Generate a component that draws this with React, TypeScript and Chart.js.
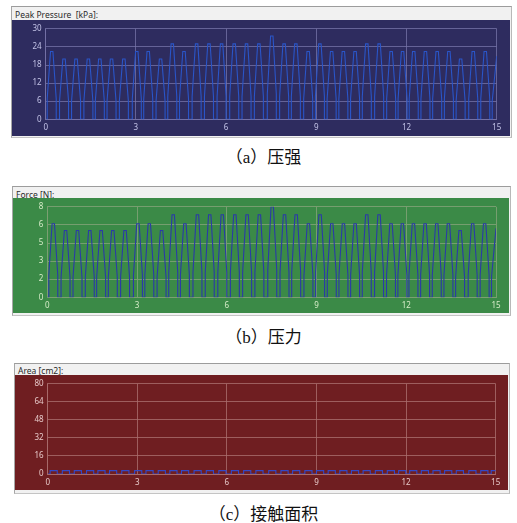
import React, { useEffect, useRef } from 'react';
import { Chart, registerables } from 'chart.js';

Chart.register(...registerables);

// ---- data ----
const xTicks = [0, 3, 6, 9, 12, 15];
const pressureTicks = [0, 6, 12, 18, 24, 30];
const forceTicks = [0, 1.6, 3.2, 4.8, 6.4, 8];
const areaTicks = [0, 16, 32, 48, 64, 80];

// time (s) of each step peak
const peakTimes = [
  0.2, 0.61, 1.01, 1.42, 1.8, 2.19, 2.6, 3.03, 3.41, 3.82, 4.21, 4.6, 5.02,
  5.43, 5.85, 6.27, 6.68, 7.09, 7.52, 7.93, 8.32, 8.73, 9.12, 9.51, 9.9,
  10.29, 10.68, 11.09, 11.49, 11.87, 12.24, 12.63, 13.02, 13.41, 13.8, 14.22,
  14.62,
];
// peak pressure (kPa) of each step
const pressurePeaks = [
  22.5, 20, 20, 20, 20, 20, 20, 22.5, 22.5, 20, 25, 22.5, 25, 25, 25, 25, 25,
  25, 27.6, 25, 25, 22.5, 25, 22.5, 22.5, 22.5, 25, 25, 22.5, 22.5, 22.5, 22.5,
  22.5, 22.5, 20, 22.5, 22.5,
];
// force (N) of each step
const forcePeaks = [
  6.5, 5.9, 5.9, 5.9, 5.9, 5.9, 5.9, 6.5, 6.5, 5.9, 7.3, 6.5, 7.3, 7.3, 7.3,
  7.3, 7.3, 7.3, 8.0, 7.3, 7.3, 6.5, 7.3, 6.5, 6.5, 6.5, 7.3, 7.3, 6.5, 6.5,
  6.5, 6.5, 6.5, 6.5, 5.9, 6.5, 6.5,
];
// contact area (cm2) of each step
const areaPeaks = [
  3, 3, 3, 3, 3, 3, 3, 3, 3, 3, 3, 3, 3, 3, 3, 3, 3, 3, 3, 3, 3, 3, 3, 3, 3, 3,
  3, 3, 3, 3, 3, 3, 3, 3, 3, 3, 3,
];
// last, unfinished step at the right edge
const tailTimes = [14.85, 14.85, 15.0];
const pressureTail = [0, 6, 21];
const forceTail = [0, 1.8, 6.1];
const areaTail = [0, 3, 3];

// outline of one step (time offset from peak, fraction of peak)
const stepOffsets = [-0.15, -0.15, -0.1, -0.04, 0.04, 0.1, 0.15, 0.15];
const stepShape = [0, 0.3, 0.62, 1, 1, 0.62, 0.3, 0];
const areaOffsets = [-0.12, -0.12, -0.05, 0.05, 0.12, 0.12];
const areaShape = [0, 1, 1, 1, 1, 0];

function buildPoints(peaks: number[], tail: number[], offsets: number[], shape: number[]) {
  const pts: { x: number; y: number }[] = [{ x: 0, y: 0 }];
  peakTimes.forEach((t, i) => {
    offsets.forEach((o, j) => {
      pts.push({ x: Math.round((t + o) * 1000) / 1000, y: peaks[i] * shape[j] });
    });
  });
  tailTimes.forEach((t, i) => pts.push({ x: t, y: tail[i] }));
  return pts;
}

type PanelProps = {
  left: number;
  top: number;
  width: number;
  height: number;
  bg: string;
  grid: string;
  tick: string;
  line: string;
  points: { x: number; y: number }[];
  yTicks: number[];
  padTop: number;
  padRight: number;
  yWidth: number;
  xHeight: number;
};

function ChartBox(p: PanelProps) {
  const ref = useRef<HTMLCanvasElement>(null);
  useEffect(() => {
    if (!ref.current) return;
    const font = { size: 8, family: "'Noto Sans', 'DejaVu Sans', sans-serif" };
    const chart = new Chart(ref.current, {
      type: 'line',
      data: {
        datasets: [
          {
            data: p.points,
            borderColor: p.line,
            borderWidth: 1.1,
            pointRadius: 0,
            tension: 0,
            fill: false,
          },
        ],
      },
      options: {
        animation: false,
        responsive: false,
        maintainAspectRatio: false,
        events: [],
        plugins: { legend: { display: false }, tooltip: { enabled: false } },
        layout: { padding: { top: p.padTop, right: p.padRight, left: 0, bottom: 0 } },
        scales: {
          x: {
            type: 'linear',
            min: 0,
            max: 15,
            afterBuildTicks: (s: any) => {
              s.ticks = xTicks.map((v) => ({ value: v }));
            },
            afterFit: (s: any) => {
              s.height = p.xHeight;
            },
            ticks: {
              color: p.tick,
              font,
              padding: 4,
              maxRotation: 0,
              autoSkip: false,
              callback: (v: any) => String(Math.round(Number(v))),
            },
            grid: { color: p.grid, drawTicks: false, lineWidth: 1 },
            border: { color: p.grid, width: 1 },
          },
          y: {
            type: 'linear',
            min: p.yTicks[0],
            max: p.yTicks[p.yTicks.length - 1],
            afterBuildTicks: (s: any) => {
              s.ticks = p.yTicks.map((v) => ({ value: v }));
            },
            afterFit: (s: any) => {
              s.width = p.yWidth;
            },
            ticks: {
              color: p.tick,
              font,
              padding: 4,
              autoSkip: false,
              callback: (v: any) => String(Math.round(Number(v))),
            },
            grid: { color: p.grid, drawTicks: false, lineWidth: 1 },
            border: { color: p.grid, width: 1 },
          },
        },
      },
    } as any);
    return () => chart.destroy();
  }, []);
  return (
    <div
      style={{
        position: 'absolute',
        left: p.left,
        top: p.top,
        width: p.width,
        height: p.height,
        background: p.bg,
      }}
    >
      <canvas
        ref={ref}
        width={p.width}
        height={p.height}
        style={{ display: 'block', width: p.width, height: p.height }}
      />
    </div>
  );
}

function Frame(props: { left: number; top: number; width: number; height: number; title: string; titleTop: number }) {
  return (
    <>
      <div
        style={{
          position: 'absolute',
          left: props.left,
          top: props.top,
          width: props.width,
          height: props.height,
          background: '#f1f1f1',
          borderTop: '1px solid #9c9c9c',
          borderLeft: '1px solid #a6a6a6',
          borderRight: '1px solid #b8b8b8',
          borderBottom: '1px solid #c4c4c4',
          boxSizing: 'border-box',
        }}
      />
      <div
        style={{
          position: 'absolute',
          left: props.left + 4,
          top: props.titleTop,
          fontFamily: "'Noto Sans', sans-serif",
          fontSize: 8.5,
          lineHeight: '10px',
          color: '#2a2a2a',
          whiteSpace: 'pre',
        }}
      >
        {props.title}
      </div>
    </>
  );
}

function Caption(props: { top: number; text: string }) {
  return (
    <div
      style={{
        position: 'absolute',
        left: 10,
        top: props.top,
        width: 507,
        textAlign: 'center',
        fontFamily: "'Liberation Serif', 'Noto Sans CJK SC', serif",
        fontSize: 17,
        lineHeight: '20px',
        color: '#111',
      }}
    >
      {props.text}
    </div>
  );
}

export default function App() {
  const pressurePts = buildPoints(pressurePeaks, pressureTail, stepOffsets, stepShape);
  const forcePts = buildPoints(forcePeaks, forceTail, stepOffsets, stepShape);
  const areaPts = buildPoints(areaPeaks, areaTail, areaOffsets, areaShape);
  return (
    <div
      style={{
        position: 'fixed',
        left: 0,
        top: 0,
        width: 517,
        height: 523,
        background: '#ffffff',
        overflow: 'hidden',
      }}
    >
      <Frame left={11} top={6} width={501} height={132} title="Peak Pressure  [kPa]:" titleTop={10} />
      <ChartBox
        left={12}
        top={20}
        width={498}
        height={116}
        bg="#2e2c5f"
        grid="rgba(120,118,170,0.75)"
        tick="#c2c2e6"
        line="#2a55c8"
        points={pressurePts}
        yTicks={pressureTicks}
        padTop={6}
        padRight={13.3}
        yWidth={33.7}
        xHeight={16.7}
      />
      <Caption top={148} text="（a）压强" />

      <Frame left={12} top={186} width={499} height={130} title="Force [N]:" titleTop={189.5} />
      <ChartBox
        left={13}
        top={198}
        width={496}
        height={115}
        bg="#3b8a47"
        grid="rgba(125,160,115,0.9)"
        tick="#d6ecc8"
        line="#2a3aa8"
        points={forcePts}
        yTicks={forceTicks}
        padTop={7}
        padRight={13}
        yWidth={34.3}
        xHeight={15.7}
      />
      <Caption top={328} text="（b）压力" />

      <Frame left={14} top={363} width={496} height={131} title="Area [cm2]:" titleTop={366} />
      <ChartBox
        left={15}
        top={375}
        width={493}
        height={115}
        bg="#6f1e21"
        grid="rgba(170,110,110,0.8)"
        tick="#e6c8c8"
        line="#3348c8"
        points={areaPts}
        yTicks={areaTicks}
        padTop={5.7}
        padRight={12.3}
        yWidth={32.7}
        xHeight={16}
      />
      <Caption top={505} text="（c）接触面积" />
    </div>
  );
}
